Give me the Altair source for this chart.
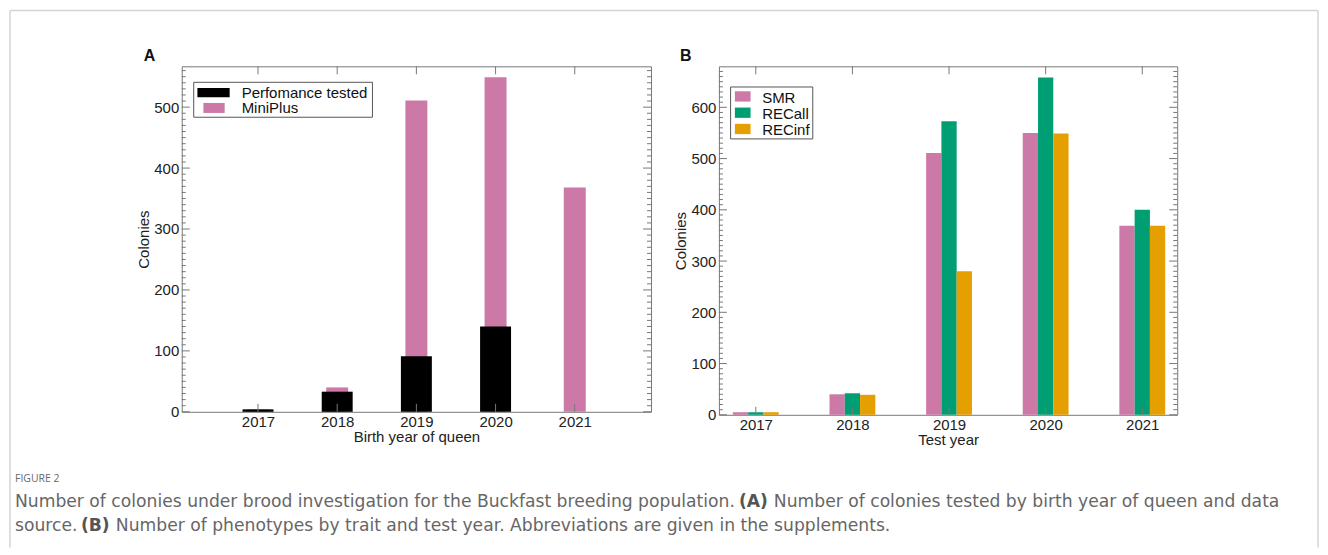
import altair as alt
import pandas as pd

# ---------------- data ----------------
YEARS = [2017, 2018, 2019, 2020, 2021]

A_SERIES = ["Perfomance tested", "MiniPlus"]
A_PERF = [4, 33, 91, 140, 0]
A_MINI = [4, 40, 511, 549, 368]
A_COLORS = ["#000000", "#CC79A7"]

B_SERIES = ["SMR", "RECall", "RECinf"]
B_SMR = [5, 40, 511, 550, 369]
B_RECALL = [5, 42, 573, 658, 400]
B_RECINF = [5, 39, 280, 549, 369]
B_COLORS = ["#CC79A7", "#009E73", "#E69F00"]

A_YTICKS = [0, 100, 200, 300, 400, 500]
B_YTICKS = [0, 100, 200, 300, 400, 500, 600]

PANEL_LABELS = ["A", "B"]
Y_TITLE = "Colonies"
A_X_TITLE = "Birth year of queen"
B_X_TITLE = "Test year"

FIG_LABEL = "FIGURE 2"
CAP1 = ["Number of colonies under brood investigation for the Buckfast breeding population.",
        "(A)", "Number of colonies tested by birth year of queen and data"]
CAP2 = ["source.", "(B)", "Number of phenotypes by trait and test year. Abbreviations are given in the supplements."]

# ---------------- layout ----------------
FONT = "Liberation Sans"
FS = 15
CAP_FONT = "DejaVu Sans"
TICK = "#777777"
WA, HA = 470, 346
WB, HB = 459, 349

xA = alt.Scale(domain=[2016.1, 2021.9], nice=False, zero=False)
yA = alt.Scale(domain=[0, 567], nice=False, zero=True)
xB = alt.Scale(domain=[2016.67, 2021.31], nice=False, zero=False)
yB = alt.Scale(domain=[0, 680], nice=False, zero=True)

one = pd.DataFrame({"k": [0]})


def y_axis(vals):
    return alt.Axis(values=vals, title=Y_TITLE, labelPadding=3, titlePadding=2)


def x_axis(title):
    return alt.Axis(values=YEARS, format="d", title=title, labelPadding=3, titlePadding=0)


def tick_layers(xs, ys, xax, yax, W, H, yticks, ymax):
    major = pd.DataFrame({"v": yticks})
    minor = pd.DataFrame({"v": [v for v in range(10, ymax, 10) if v % 100]})
    yrs = pd.DataFrame({"year": YEARS})
    out = []
    for df, L in ((major, 8), (minor, 4)):
        for x0, x1 in ((0, L), (W - L, W)):
            out.append(alt.Chart(df).mark_rule(color=TICK, strokeWidth=1).encode(
                y=alt.Y("v:Q", scale=ys, axis=yax), x=alt.value(x0), x2=alt.value(x1)))
    for y0, y1 in ((0, 8), (H - 8, H)):
        out.append(alt.Chart(yrs).mark_rule(color=TICK, strokeWidth=1).encode(
            x=alt.X("year:Q", scale=xs, axis=xax), y=alt.value(y0), y2=alt.value(y1)))
    return out


def text_layer(txt, x, y, size=FS, weight="normal", color="#111111", font=FONT,
               align="left", baseline="alphabetic"):
    return alt.Chart(pd.DataFrame({"t": [txt]})).mark_text(
        align=align, baseline=baseline, fontSize=size, fontWeight=weight,
        color=color, font=font).encode(text="t:N", x=alt.value(x), y=alt.value(y))


def rect_layer(x0, x1, y0, y1, fill, stroke=None):
    kw = dict(fill=fill)
    if stroke:
        kw.update(stroke=stroke, strokeWidth=1)
    return alt.Chart(one).mark_rect(**kw).encode(
        x=alt.value(x0), x2=alt.value(x1), y=alt.value(y0), y2=alt.value(y1))


# ---------------- panel A ----------------
xaxA, yaxA = x_axis(A_X_TITLE), y_axis(A_YTICKS)
dfA = pd.DataFrame({"year": YEARS, "perf": A_PERF, "mini": A_MINI})
miniA = alt.Chart(dfA).mark_bar(size=22, color=A_COLORS[1]).encode(
    x=alt.X("year:Q", scale=xA, axis=xaxA),
    y=alt.Y("mini:Q", scale=yA, axis=yaxA))
perfA = alt.Chart(dfA).mark_bar(size=31, color=A_COLORS[0]).encode(
    x=alt.X("year:Q", scale=xA, axis=xaxA),
    y=alt.Y("perf:Q", scale=yA, axis=yaxA))

legA = [
    rect_layer(12, 191, 16, 51, "white", "#555555"),
    rect_layer(15.7, 48, 21.7, 31, A_COLORS[0]),
    rect_layer(21.7, 43, 36.7, 46.7, A_COLORS[1]),
    text_layer(A_SERIES[0], 60, 31.5),
    text_layer(A_SERIES[1], 60, 47),
]

FR = "#d4d4d4"
frame = [
    alt.Chart(one).mark_rule(color=FR, strokeWidth=1.5).encode(
        x=alt.value(-172), y=alt.value(-56), y2=alt.value(482)),
    alt.Chart(one).mark_rule(color=FR, strokeWidth=1.5).encode(
        x=alt.value(-172), x2=alt.value(1138), y=alt.value(-56)),
    alt.Chart(one).mark_rule(color=FR, strokeWidth=1.5).encode(
        x=alt.value(1138), y=alt.value(-56), y2=alt.value(482)),
]

CAPC = "#666666"
BOLDC = "#555555"
CS = 17.2
caption = [
    text_layer(FIG_LABEL, -167, 413, size=10.5, color="#6a6a6a", font="Open Sans", baseline="middle"),
    text_layer(CAP1[0], -167, 436.7, size=CS, color=CAPC, font=CAP_FONT, baseline="middle"),
    text_layer(CAP1[1], 558, 436.7, size=CS, weight="bold", color=BOLDC, font=CAP_FONT, baseline="middle"),
    text_layer(CAP1[2], 593, 436.7, size=CS, color=CAPC, font=CAP_FONT, baseline="middle"),
    text_layer(CAP2[0], -167, 460, size=CS, color=CAPC, font=CAP_FONT, baseline="middle"),
    text_layer(CAP2[1], -101, 460, size=CS, weight="bold", color=BOLDC, font=CAP_FONT, baseline="middle"),
    text_layer(CAP2[2], -66, 460, size=CS, color=CAPC, font=CAP_FONT, baseline="middle"),
]

panelA = alt.layer(
    *frame, miniA, perfA,
    *tick_layers(xA, yA, xaxA, yaxA, WA, HA, A_YTICKS, 567),
    *legA,
    text_layer(PANEL_LABELS[0], -38, -5, size=16, weight="bold"),
    *caption,
).properties(width=WA, height=HA)

# ---------------- panel B ----------------
xaxB, yaxB = x_axis(B_X_TITLE), y_axis(B_YTICKS)
dfB = pd.DataFrame({"year": YEARS, "SMR": B_SMR, "RECall": B_RECALL, "RECinf": B_RECINF})
BW = 15.3
barsB = []
for i, (name, col) in enumerate(zip(B_SERIES, B_COLORS)):
    barsB.append(alt.Chart(dfB).mark_bar(size=BW, color=col, xOffset=(i - 1) * BW).encode(
        x=alt.X("year:Q", scale=xB, axis=xaxB),
        y=alt.Y(f"{name}:Q", scale=yB, axis=yaxB)))

legB = [rect_layer(11.7, 94, 20.7, 72.7, "white", "#555555")]
for i, (name, col) in enumerate(zip(B_SERIES, B_COLORS)):
    top = 25 + i * 16.3
    legB.append(rect_layer(16, 31.7, top, top + 10.3, col))
    legB.append(text_layer(name, 43.3, 36.5 + i * 15.9))

panelB = alt.layer(
    *barsB,
    *tick_layers(xB, yB, xaxB, yaxB, WB, HB, B_YTICKS, 680),
    *legB,
    text_layer(PANEL_LABELS[1], -39, -5, size=16, weight="bold"),
).properties(width=WB, height=HB)

chart = alt.hconcat(panelA, panelB, spacing=68, bounds="flush").properties(
    padding={"left": 0, "top": 0, "right": 0, "bottom": 0},
    background="white",
).configure_view(stroke="#777777", strokeWidth=1).configure_axis(
    labelFont=FONT, labelFontSize=FS, labelColor="#222222",
    titleFont=FONT, titleFontSize=FS, titleFontWeight="normal", titleColor="#222222",
    grid=False, ticks=False, domain=False,
)

chart.save("out.html", embed_options={"renderer": "svg", "actions": False})
